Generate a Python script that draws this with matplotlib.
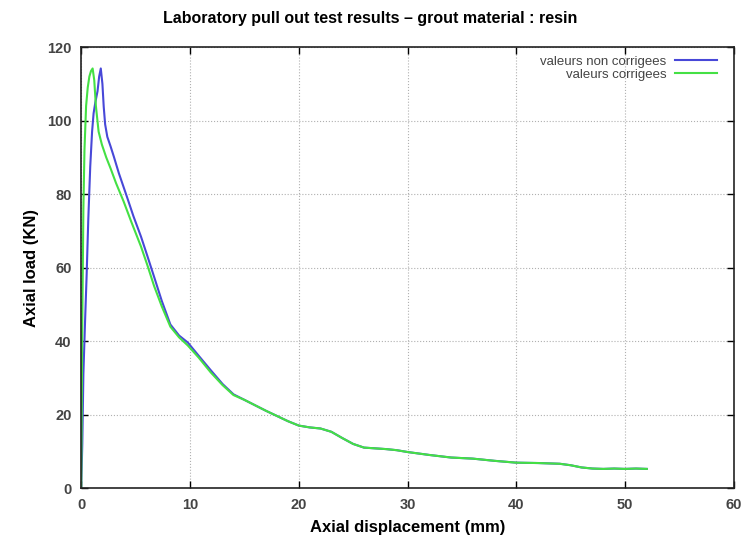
import numpy as np
import matplotlib
matplotlib.use('Agg')
import matplotlib.pyplot as plt

plt.rcParams['font.family'] = ['Liberation Sans', 'DejaVu Sans']

# uncorrected values (rising part + decay until curves merge)
x_raw = [0, 0.1, 0.2, 0.35, 0.5, 0.65, 0.83, 1.0, 1.14, 1.3, 1.5, 1.65, 1.8, 1.95,
         2.07, 2.2, 2.4, 2.7, 3.0, 3.46, 4.2, 4.8, 5.5, 6.1, 6.7, 7.4, 8.2, 9.0,
         9.8, 10.8, 11.9, 13.0, 14.0]
y_raw = [0, 12, 31, 45, 58, 73, 87.5, 97, 102, 105, 108, 112, 114.2, 110,
         103.8, 99, 95.6, 93, 90.2, 85.7, 79.3, 74, 68.4, 63, 57.5, 51, 44.5, 41.5,
         39.6, 36, 32.1, 28.3, 25.5]

# corrected values
x_cor = [0, 0.1, 0.2, 0.3, 0.45, 0.6, 0.75, 0.9, 1.05, 1.2, 1.35, 1.6, 1.9, 2.3,
         2.7, 3.2, 3.9, 4.6, 5.5, 6.1, 6.7, 7.4, 8.2, 9.0, 9.8, 10.8, 11.9, 13.0, 14.0]
y_cor = [0, 45, 76, 92, 104, 109, 112, 113.5, 114.2, 111, 104, 97, 93.5, 90,
         87, 83, 78, 72.5, 65.7, 60.5, 55, 49.5, 43.9, 41, 38.8, 35.5, 31.5, 28, 25.3]

# common tail (both curves overlap)
x_tail = [15, 16, 17, 18, 19, 20, 21, 22, 23, 24, 25, 26, 27, 28, 29, 30, 32, 34,
          36, 38, 40, 42, 44, 45, 46, 47, 48, 49, 50, 51, 52]
y_tail = [24, 22.5, 21, 19.6, 18.2, 17, 16.5, 16.2, 15.3, 13.6, 12, 11, 10.8, 10.6,
          10.3, 9.8, 9, 8.3, 8.0, 7.4, 6.9, 6.8, 6.6, 6.2, 5.6, 5.3, 5.2, 5.3, 5.2, 5.3, 5.2]

fig = plt.figure(figsize=(7.45, 5.42), dpi=100)
ax = fig.add_axes([0.109, 0.0996, 0.876, 0.8134])

ax.plot(x_raw + x_tail, y_raw + y_tail, color='#4848d8', lw=1.5, label='valeurs non corrigees')
ax.plot(x_cor + x_tail, y_cor + y_tail, color='#44e044', lw=1.5, label='valeurs corrigees')

ax.set_xlim(0, 60)
ax.set_ylim(0, 120)
ax.set_xticks(np.arange(0, 61, 10))
ax.set_yticks(np.arange(0, 121, 20))
ax.grid(True, color='#b0b0b0', linestyle=':', linewidth=0.8)
ax.tick_params(direction='in', top=True, right=True, length=5, width=1,
               labelsize=10.5, labelcolor='#444444', pad=7)
for lab in ax.get_xticklabels() + ax.get_yticklabels():
    lab.set_fontweight('bold')
for sp in ax.spines.values():
    sp.set_linewidth(1.2)
    sp.set_color('#222222')

ax.set_xlabel('Axial displacement (mm)', fontsize=12, fontweight='bold', labelpad=6)
ax.set_ylabel('Axial load (KN)', fontsize=12, fontweight='bold', labelpad=6)
fig.text(0.497, 0.965, 'Laboratory pull out test results \u2013 grout material : resin',
         ha='center', va='center', fontsize=11.5, fontweight='bold')

leg = ax.legend(loc='upper right', bbox_to_anchor=(0.987, 1.0), frameon=False,
                markerfirst=False, fontsize=9.5, handlelength=3.2, handletextpad=0.6,
                labelspacing=0.05, borderpad=0.2, borderaxespad=0.45)
for t in leg.get_texts():
    t.set_color('#444444')
    t.set_ha('right')

fig.savefig('out.png', dpi=100, facecolor='white')
